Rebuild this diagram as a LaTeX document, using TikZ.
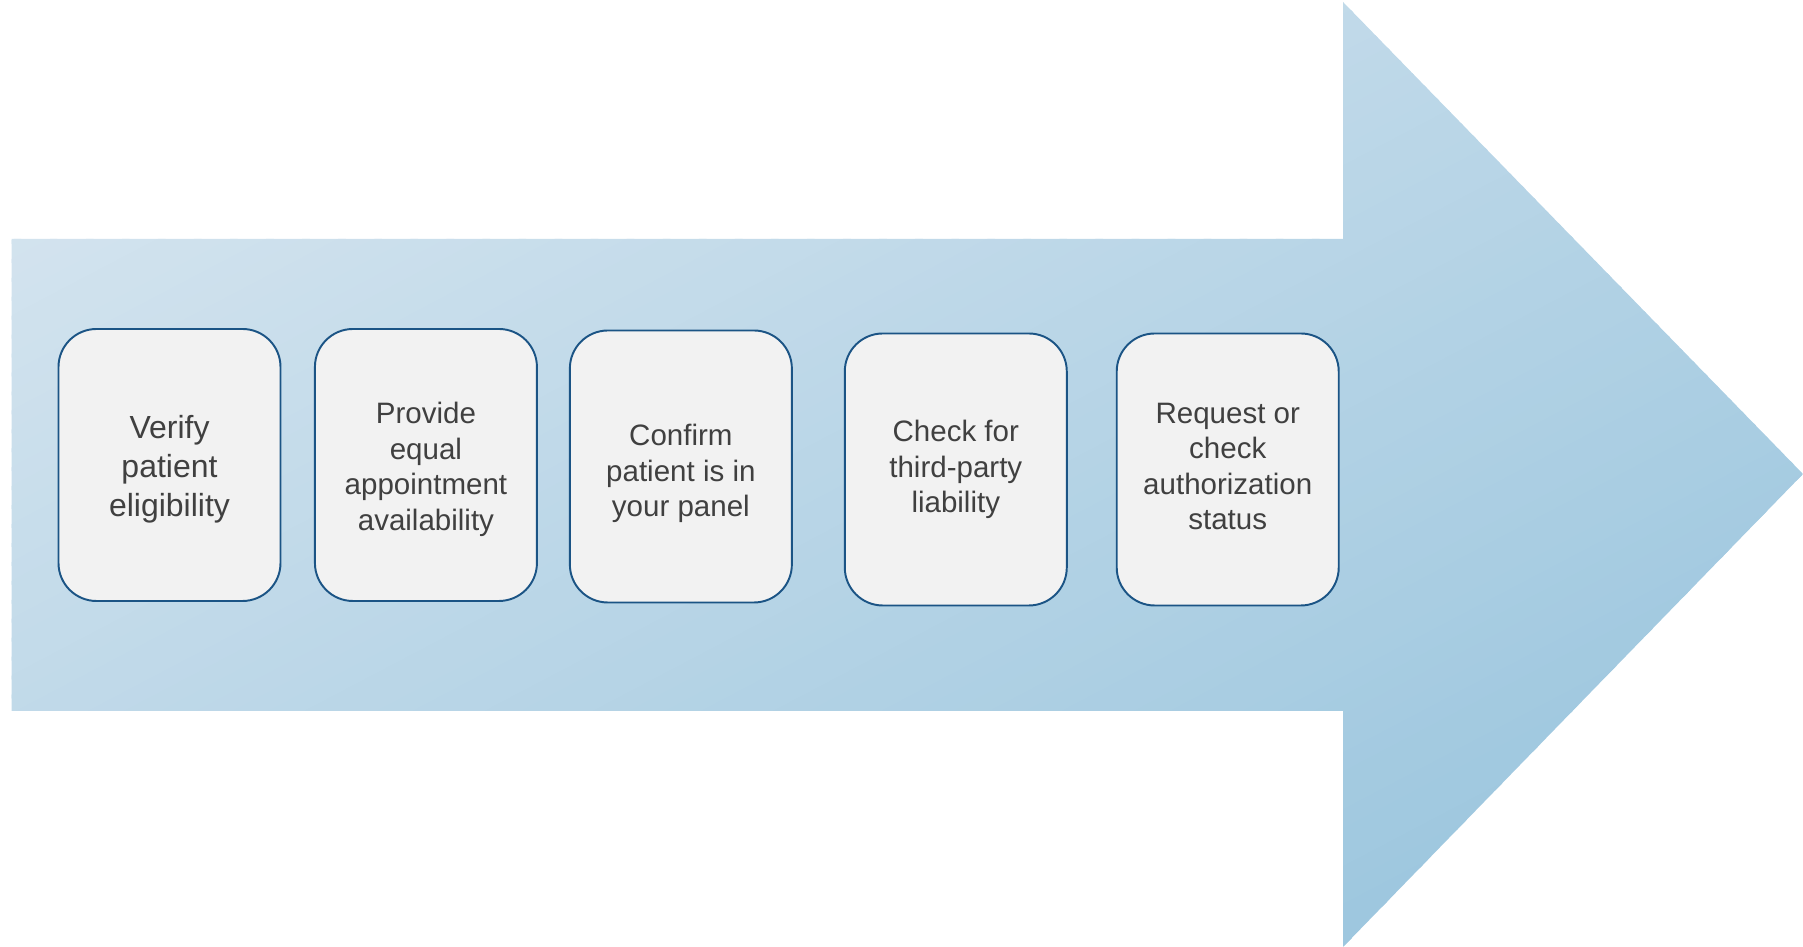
\documentclass[tikz,border=0pt]{standalone}
\usepackage{fontspec}
\setmainfont{Liberation Sans}
\usepackage{xcolor}
\usetikzlibrary{positioning}

\definecolor{arrowlight}{HTML}{DCE8F1}
\definecolor{arrowdark}{HTML}{94C2DC}
\definecolor{taskfill}{HTML}{F2F2F2}
\definecolor{taskline}{HTML}{1B5485}
\definecolor{tasktext}{HTML}{404040}

\begin{document}
\begin{tikzpicture}[
    node distance=0.325cm,
    task/.style={rectangle, rounded corners=0.38cm, draw=taskline, line width=0.55pt, fill=taskfill, text=tasktext, minimum width=2.22cm, minimum height=2.72cm, align=center, font=\fontsize{8.4}{10.1}\selectfont},
    firsttask/.style={task, font=\fontsize{9.1}{11}\selectfont}
]
\useasboundingbox (0,0) rectangle (18.03,9.47);

% big arrow, filled with diagonal bands from light to dark
\begin{scope}
\clip (0.115,2.36) -- (0.115,7.08) -- (13.43,7.08) -- (13.43,9.45) -- (18.03,4.73) -- (13.43,0) -- (13.43,2.36) -- cycle;
\foreach \i in {0,...,99} {
  \pgfmathsetmacro\ua{\i/50}
  \pgfmathsetmacro\ub{(\i+1.2)/50}
  \pgfmathsetmacro\p{\i+0.5}
  \fill[arrowdark!\p!arrowlight] ({18.03*(\ua-1)},0) -- ({18.03*(\ub-1)},0) -- ({18.03*\ub},9.47) -- ({18.03*\ua},9.47) -- cycle;
}
\end{scope}

\node[firsttask, text height=1.09cm] (verify) at (1.695,4.82) {Verify\\patient\\eligibility};
\node[task, text height=1.37cm, right=of verify] (provide) {Provide\\equal\\appointment\\availability};
\node[task, text height=1.07cm, right=0.31cm of provide, yshift=-0.015cm] (confirm) {Confirm\\patient is in\\your panel};
\node[task, right=0.51cm of confirm, yshift=-0.03cm] (liability) {Check for\\third-party\\liability};
\node[task, text depth=0.066cm, right=0.48cm of liability] (authorization) {Request or\\check\\authorization\\status};

\end{tikzpicture}
\end{document}
